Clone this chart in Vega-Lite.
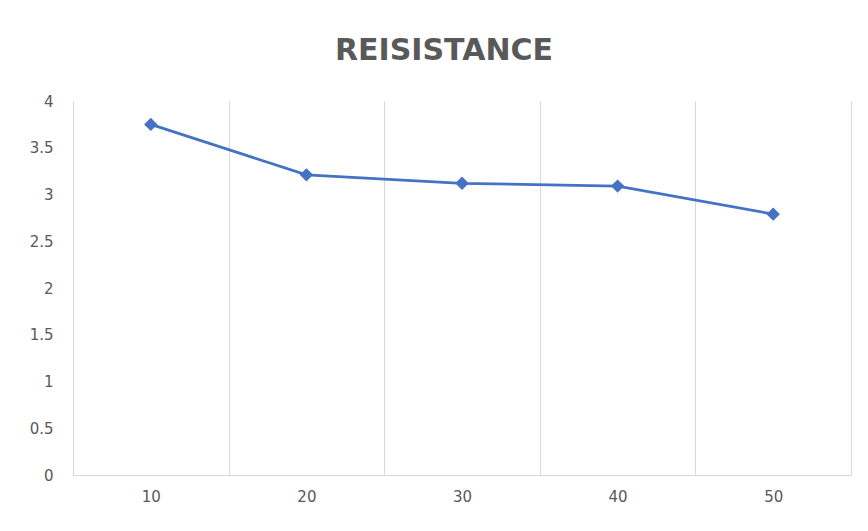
{
  "$schema": "https://vega.github.io/schema/vega-lite/v6.json",
  "autosize": {"type": "none"},
  "width": 778,
  "height": 374,
  "padding": {"left": 73, "top": 101, "right": 17, "bottom": 56},
  "background": "white",
  "title": {
    "text": "REISISTANCE",
    "font": "DejaVu Sans",
    "fontSize": 30,
    "fontWeight": "bold",
    "color": "#595959",
    "anchor": "middle",
    "baseline": "alphabetic",
    "dx": -18,
    "offset": 4
  },
  "config": {
    "view": {"stroke": null},
    "axis": {
      "labelFont": "DejaVu Sans",
      "labelFontSize": 15,
      "labelColor": "#595959",
      "domainColor": "#d9d9d9",
      "domainWidth": 1,
      "gridColor": "#d9d9d9",
      "gridWidth": 1,
      "ticks": false,
      "title": null
    }
  },
  "data": {
    "values": [
      {"x": 10, "resistance": 3.75},
      {"x": 20, "resistance": 3.21},
      {"x": 30, "resistance": 3.12},
      {"x": 40, "resistance": 3.09},
      {"x": 50, "resistance": 2.79}
    ]
  },
  "mark": {
    "type": "line",
    "color": "#4472C4",
    "strokeWidth": 2.75,
    "point": {"shape": "diamond", "size": 180, "filled": true, "color": "#4472C4", "opacity": 1}
  },
  "encoding": {
    "x": {
      "field": "x",
      "type": "quantitative",
      "scale": {"domain": [5, 55], "nice": false, "zero": false},
      "axis": {
        "values": [5, 10, 15, 20, 25, 30, 35, 40, 45, 50, 55],
        "labelExpr": "datum.value % 10 == 0 ? datum.label : ''",
        "grid": true,
        "gridOpacity": {"condition": {"test": "datum.value % 10 == 5", "value": 1}, "value": 0},
        "labelPadding": 14,
        "labelFlush": false,
        "labelOverlap": false
      }
    },
    "y": {
      "field": "resistance",
      "type": "quantitative",
      "scale": {"domain": [0, 4], "nice": false},
      "axis": {
        "values": [0, 0.5, 1, 1.5, 2, 2.5, 3, 3.5, 4],
        "format": "~g",
        "grid": false,
        "labelPadding": 20,
        "labelOverlap": false
      }
    }
  }
}
